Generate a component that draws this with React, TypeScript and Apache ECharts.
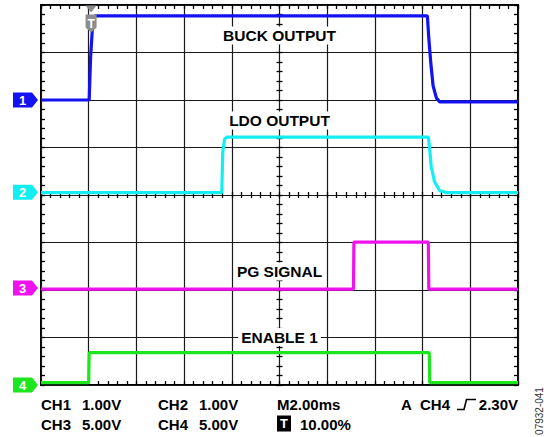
import React, { useEffect, useRef } from 'react';
import * as echarts from 'echarts';

const FONT = '"Liberation Sans", Arial, Helvetica, sans-serif';

// Trace points: [time (divisions), level (divisions)]
const buckOutput = [[0, 6.0], [1.01, 6.0], [1.04, 6.9], [1.08, 7.55], [1.13, 7.77], [8.1, 7.77], [8.13, 7.3], [8.17, 6.8], [8.22, 6.3], [8.29, 6.04], [8.36, 5.96], [10, 5.96]];
const ldoOutput = [[0, 4.05], [3.79, 4.05], [3.81, 4.9], [3.85, 5.18], [3.9, 5.22], [8.12, 5.22], [8.15, 4.95], [8.18, 4.6], [8.25, 4.28], [8.36, 4.09], [8.5, 4.05], [10, 4.05]];
const pgSignal = [[0, 2.02], [6.55, 2.02], [6.56, 3.01], [8.12, 3.01], [8.13, 2.02], [10, 2.02]];
const enable1 = [[0, 0.05], [1.0, 0.05], [1.01, 0.68], [8.14, 0.68], [8.15, 0.05], [10, 0.05]];

const channelNames = ['1', '2', '3', '4'];
const channelGround = [6, 4.06, 2.04, 0];
const traceLabels = ['BUCK OUTPUT', 'LDO OUTPUT', 'PG SIGNAL', 'ENABLE 1'];
const traceLabelPos = [[5, 7.36], [5, 5.57], [5, 2.39], [5, 1.01]];
const triggerPos = [1.05, 8];

const scaleRow1 = ['CH1', '1.00V', 'CH2', '1.00V'];
const scaleRow2 = ['CH3', '5.00V', 'CH4', '5.00V'];
const timebase = 'M2.00ms';
const triggerPercent = '10.00%';
const triggerSource = ['A', 'CH4', '2.30V'];
const figureId = '07932-041';

const X_DIVS = 10;
const Y_DIVS = 8;

const colors = ['#1212f2', '#12eef2', '#f012ee', '#1ee61e'];

function tickAxis(extra: any) {
  return {
    type: 'value',
    axisLine: { show: false, onZero: false },
    axisLabel: { show: false },
    splitLine: { show: false },
    axisTick: { show: true, inside: true, length: 4, lineStyle: { color: '#000', width: 1.3 } },
    minorTick: { show: true, splitNumber: 5, length: 4, lineStyle: { color: '#000', width: 1.3 } },
    ...extra,
  };
}

function hiddenAxis(extra: any) {
  return { type: 'value', show: false, min: 0, max: 1, axisLine: { onZero: false }, ...extra };
}

export default function App() {
  const ref = useRef<HTMLDivElement>(null);
  useEffect(() => {
    if (!ref.current) return;
    const chart = echarts.init(ref.current, null, { renderer: 'svg' });
    const traces = [buckOutput, ldoOutput, pgSignal, enable1];
    const gridLine = { show: true, lineStyle: { color: '#1a1a1a', width: 1.2 } };
    const cross = { length: 3 };

    const series = traces.map((d, i) => {
      const mp: any[] = [
        {
          coord: [0, channelGround[i]],
          symbol: 'path://M0 0 L19 0 L25 7.5 L19 15 L0 15 Z',
          symbolSize: [25, 15],
          symbolOffset: [-15.5, 0],
          itemStyle: { color: colors[i] },
          label: { show: true, position: 'inside', formatter: channelNames[i], color: '#fff', fontSize: 13, fontWeight: 'bold', fontFamily: FONT, offset: [-3, 0] },
        },
        {
          coord: traceLabelPos[i],
          symbol: 'rect',
          symbolSize: 1,
          itemStyle: { color: 'rgba(0,0,0,0)' },
          label: { show: true, position: 'inside', formatter: traceLabels[i], color: '#000', fontSize: 15.5, fontWeight: 'bold', fontFamily: FONT, backgroundColor: '#fff', padding: [1, 3], lineHeight: 16 },
        },
      ];
      if (i === 0) {
        mp.push({
          coord: triggerPos,
          symbol: 'path://M0 0 L11 0 L5.5 7 Z M0 9 L11 9 L11 22 L5.5 27 L0 22 Z',
          symbolSize: [11, 27],
          symbolOffset: [0, 14],
          itemStyle: { color: '#8c8c8c' },
          label: { show: true, position: 'inside', formatter: 'T', color: '#fff', fontSize: 12, fontWeight: 'bold', fontFamily: FONT, offset: [0, 4.5] },
        });
      }
      return {
        type: 'line',
        xAxisIndex: 0,
        yAxisIndex: 0,
        data: d,
        symbol: 'none',
        showSymbol: false,
        lineStyle: { color: colors[i], width: 3.2 },
        z: 3,
        markPoint: { silent: true, animation: false, data: mp },
      };
    });

    const colX = [41, 82, 158, 199];
    const rowY = [404.5, 424.5];
    const bold15 = 'bold 15px ' + FONT;
    const graphic: any[] = [];
    scaleRow1.forEach((t, k) => graphic.push({ type: 'text', x: colX[k], y: rowY[0], style: { text: t, font: bold15, fill: '#000', align: 'left', verticalAlign: 'middle' } }));
    scaleRow2.forEach((t, k) => graphic.push({ type: 'text', x: colX[k], y: rowY[1], style: { text: t, font: bold15, fill: '#000', align: 'left', verticalAlign: 'middle' } }));
    graphic.push({ type: 'text', x: 277, y: rowY[0], style: { text: timebase, font: bold15, fill: '#000', align: 'left', verticalAlign: 'middle' } });
    graphic.push({ type: 'rect', shape: { x: 277, y: 415.5, width: 14, height: 16 }, style: { fill: '#000' } });
    graphic.push({ type: 'text', x: 284, y: 423.5, style: { text: 'T', font: 'bold 13px ' + FONT, fill: '#fff', align: 'center', verticalAlign: 'middle' } });
    graphic.push({ type: 'text', x: 300, y: rowY[1], style: { text: triggerPercent, font: bold15, fill: '#000', align: 'left', verticalAlign: 'middle' } });
    graphic.push({ type: 'text', x: 401, y: rowY[0], style: { text: triggerSource[0], font: bold15, fill: '#000', align: 'left', verticalAlign: 'middle' } });
    graphic.push({ type: 'text', x: 420, y: rowY[0], style: { text: triggerSource[1], font: bold15, fill: '#000', align: 'left', verticalAlign: 'middle' } });
    graphic.push({ type: 'polyline', shape: { points: [[457, 409.5], [464, 409.5], [466.5, 399.5], [476, 399.5]] }, style: { stroke: '#000', lineWidth: 1.6, fill: null } });
    graphic.push({ type: 'text', x: 518, y: rowY[0], style: { text: triggerSource[2], font: bold15, fill: '#000', align: 'right', verticalAlign: 'middle' } });
    graphic.push({ type: 'text', x: 539, y: 411, rotation: Math.PI / 2, style: { text: figureId, font: '10px ' + FONT, fill: '#333', align: 'center', verticalAlign: 'middle' } });

    chart.setOption({
      animation: false,
      backgroundColor: '#fff',
      grid: [
        { left: 41, top: 5, width: 477, height: 380, show: true, borderColor: '#000', borderWidth: 2, backgroundColor: 'rgba(0,0,0,0)', z: 0 },
        { left: 41, top: 5, width: 477, height: 190 },
        { left: 41, top: 195, width: 477, height: 190 },
        { left: 41, top: 5, width: 238.5, height: 380 },
        { left: 279.5, top: 5, width: 238.5, height: 380 },
      ],
      xAxis: [
        tickAxis({ gridIndex: 0, position: 'bottom', min: 0, max: X_DIVS, interval: 1, splitLine: gridLine }),
        tickAxis({ gridIndex: 0, position: 'top', min: 0, max: X_DIVS, interval: 1 }),
        tickAxis({ gridIndex: 1, position: 'bottom', min: 0, max: X_DIVS, interval: 1, axisTick: { show: true, inside: true, length: 3, lineStyle: { color: '#000', width: 1.3 } }, minorTick: { show: true, splitNumber: 5, ...cross, lineStyle: { color: '#000', width: 1.3 } } }),
        tickAxis({ gridIndex: 2, position: 'top', min: 0, max: X_DIVS, interval: 1, axisTick: { show: true, inside: true, length: 3, lineStyle: { color: '#000', width: 1.3 } }, minorTick: { show: true, splitNumber: 5, ...cross, lineStyle: { color: '#000', width: 1.3 } } }),
        hiddenAxis({ gridIndex: 3 }),
        hiddenAxis({ gridIndex: 4 }),
      ],
      yAxis: [
        tickAxis({ gridIndex: 0, position: 'left', min: 0, max: Y_DIVS, interval: 1, splitLine: gridLine }),
        tickAxis({ gridIndex: 0, position: 'right', min: 0, max: Y_DIVS, interval: 1 }),
        hiddenAxis({ gridIndex: 1 }),
        hiddenAxis({ gridIndex: 2 }),
        tickAxis({ gridIndex: 3, position: 'right', min: 0, max: Y_DIVS, interval: 1, axisTick: { show: true, inside: true, length: 3, lineStyle: { color: '#000', width: 1.3 } }, minorTick: { show: true, splitNumber: 5, ...cross, lineStyle: { color: '#000', width: 1.3 } } }),
        tickAxis({ gridIndex: 4, position: 'left', min: 0, max: Y_DIVS, interval: 1, axisTick: { show: true, inside: true, length: 3, lineStyle: { color: '#000', width: 1.3 } }, minorTick: { show: true, splitNumber: 5, ...cross, lineStyle: { color: '#000', width: 1.3 } } }),
      ],
      series,
      graphic,
    });
    return () => chart.dispose();
  }, []);
  return <div ref={ref} style={{ position: 'absolute', left: 0, top: 0, width: 553, height: 437 }} />;
}
